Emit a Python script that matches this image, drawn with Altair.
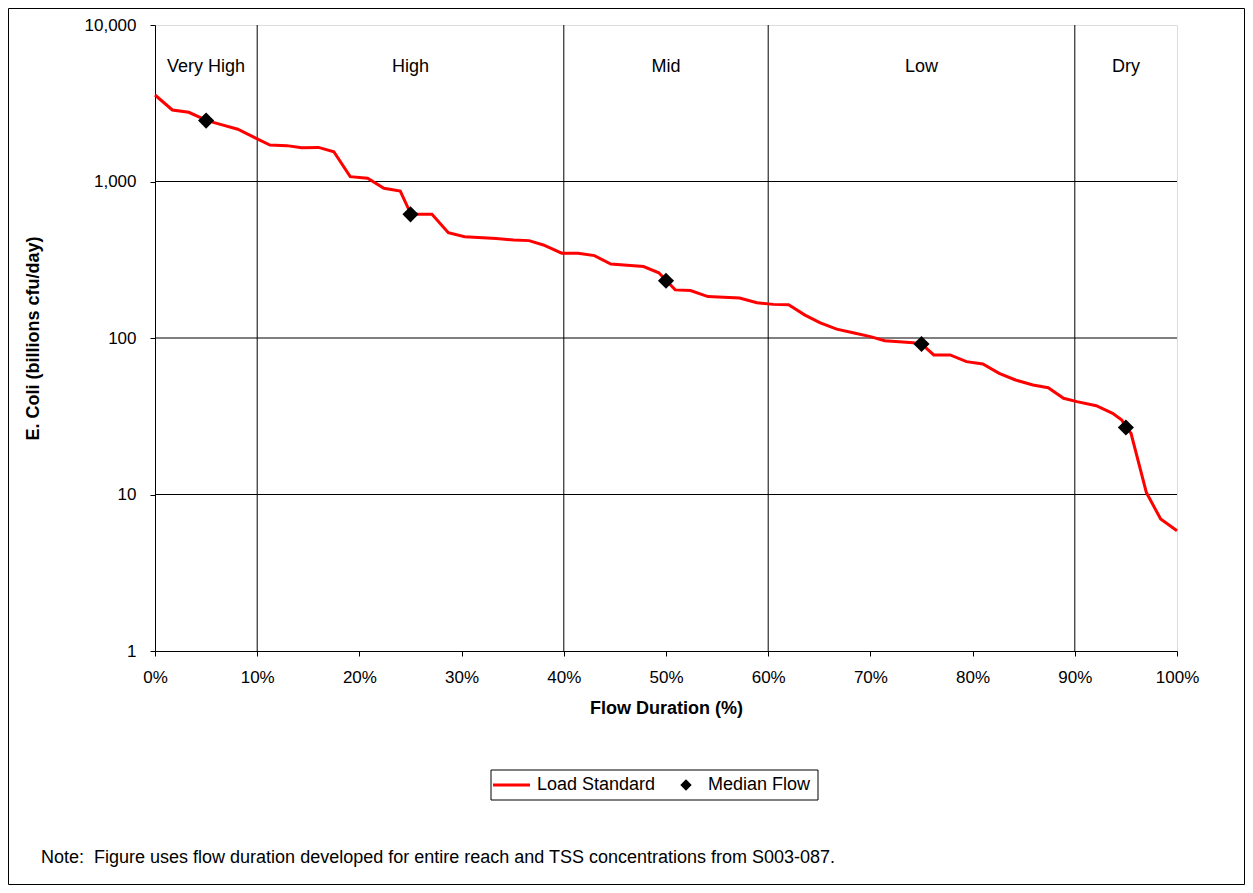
import altair as alt
import pandas as pd

# ---- data ----
flow_pct = [0, 1.7, 3.3, 5.1, 6.4, 8.1, 9.9, 11.25, 12.9, 14.35, 16.0, 17.5, 19.1, 20.8,
            22.4, 24.0, 25.05, 27.1, 28.7, 30.3, 33.4, 35.1, 36.6, 38.0, 39.8, 41.4, 43.0,
            44.6, 47.8, 49.3, 50.05, 50.9, 52.4, 54.1, 57.2, 58.9, 60.5, 62.0, 63.6, 65.1,
            66.7, 68.3, 70.0, 71.4, 74.2, 75.0, 76.2, 77.8, 79.4, 81.0, 82.6, 84.2, 85.9,
            87.4, 88.9, 90.2, 92.1, 93.7, 94.6, 95.0, 95.5, 97.0, 98.4, 100]
load_standard = [3570, 2865, 2767, 2450, 2318, 2158, 1888, 1711, 1695, 1645, 1652, 1549, 1074,
                 1048, 905, 868, 617, 617, 471, 444, 433, 423, 419, 393, 348, 348, 336, 297,
                 286, 261, 232, 203, 201, 184, 180, 168, 164, 163, 140, 125, 114, 108, 102,
                 96.1, 93.4, 91.6, 77.9, 77.9, 70.6, 68.2, 59.4, 53.9, 50.1, 48.1, 41.2, 39.2,
                 36.9, 33.0, 29.9, 26.8, 24.6, 10.3, 6.97, 5.87]
median_pct = [5, 25, 50, 75, 95]
median_flow = [2450, 617, 232, 91.6, 26.8]
zone_names = ["Very High", "High", "Mid", "Low", "Dry"]
zone_centers = [5, 25, 50, 75, 95]
zone_bounds = [10, 40, 60, 90]
grid_values = [10, 100, 1000]
y_ticks = [1, 10, 100, 1000, 10000]
x_ticks = [0, 10, 20, 30, 40, 50, 60, 70, 80, 90, 100]
legend_labels = ["Load Standard", "Median Flow"]
note_text = "Note:\u00a0 Figure uses flow duration developed for entire reach and TSS concentrations from S003-087."

FONT = "Liberation Sans"
W, H = 1022, 626

line_df = pd.DataFrame({"pct": flow_pct, "load": load_standard})
med_df = pd.DataFrame({"pct": median_pct, "load": median_flow})
zone_df = pd.DataFrame({"pct": zone_centers, "name": zone_names})
bound_df = pd.DataFrame({"pct": zone_bounds})
grid_df = pd.DataFrame({"load": grid_values})
one = pd.DataFrame({"k": [0]})

xscale = alt.Scale(domain=[0, 100], nice=False, zero=False)
yscale = alt.Scale(type="log", domain=[1, 10000], nice=False)

xaxis = alt.Axis(values=x_ticks, labelExpr="datum.value + '%'", grid=False,
                 labelFlush=False, labelOverlap=False,
                 domainColor="black", tickColor="black", tickSize=5, labelPadding=13,
                 labelFont=FONT, labelFontSize=17, labelColor="black",
                 title="Flow Duration (%)", titleFont=FONT, titleFontSize=18,
                 titleFontWeight="bold", titleColor="black",
                 titleX=511, titleY=57, titleBaseline="middle", titleAlign="center")
yaxis = alt.Axis(values=y_ticks, format=",", grid=False, labelFlush=False,
                 labelOverlap=False,
                 domainColor="black", tickColor="black", tickSize=5, labelPadding=14,
                 labelFont=FONT, labelFontSize=17, labelColor="black",
                 title="E. Coli (billions cfu/day)", titleFont=FONT, titleFontSize=18,
                 titleFontWeight="bold", titleColor="black",
                 titleX=-122, titleY=313, titleAngle=-90, titleBaseline="middle",
                 titleAlign="center")

hgrid = alt.Chart(grid_df).mark_rule(color="black", strokeWidth=1).encode(
    y=alt.Y("load:Q", scale=yscale, axis=yaxis))

vbound = alt.Chart(bound_df).mark_rule(color="black", strokeWidth=1).encode(
    x=alt.X("pct:Q", scale=xscale, axis=xaxis))

zones = alt.Chart(zone_df).mark_text(font=FONT, fontSize=18, color="black",
                                     align="center", baseline="middle").encode(
    x=alt.X("pct:Q", scale=xscale), y=alt.value(42), text="name:N")

line = alt.Chart(line_df).mark_line(color="#FF0000", strokeWidth=3).encode(
    x=alt.X("pct:Q", scale=xscale), y=alt.Y("load:Q", scale=yscale))

pts = alt.Chart(med_df).mark_point(shape="diamond", filled=True, color="black",
                                   size=260, opacity=1).encode(
    x=alt.X("pct:Q", scale=xscale), y=alt.Y("load:Q", scale=yscale))

# legend (drawn box)
leg_box = alt.Chart(one).mark_rect(fill="white", stroke="black", strokeWidth=1).encode(
    x=alt.value(336), x2=alt.value(663), y=alt.value(745), y2=alt.value(775))
leg_line = alt.Chart(one).mark_rule(color="#FF0000", strokeWidth=3).encode(
    x=alt.value(338), x2=alt.value(375), y=alt.value(760))
leg_t1 = alt.Chart(one).mark_text(font=FONT, fontSize=18, align="left",
                                  baseline="middle", color="black").encode(
    x=alt.value(382), y=alt.value(760), text=alt.value(legend_labels[0]))
leg_pt = alt.Chart(one).mark_point(shape="diamond", filled=True, color="black",
                                   size=130, opacity=1).encode(
    x=alt.value(531), y=alt.value(760))
leg_t2 = alt.Chart(one).mark_text(font=FONT, fontSize=18, align="left",
                                  baseline="middle", color="black").encode(
    x=alt.value(553), y=alt.value(760), text=alt.value(legend_labels[1]))

note = alt.Chart(one).mark_text(font=FONT, fontSize=18, align="left",
                                baseline="middle", color="black").encode(
    x=alt.value(-114), y=alt.value(833), text=alt.value(note_text))

border = alt.Chart(one).mark_rect(fill=None, stroke="black", strokeWidth=1).encode(
    x=alt.value(-146.5), x2=alt.value(1089.5), y=alt.value(-16.5), y2=alt.value(859.5))

chart = alt.layer(
    border, hgrid, vbound, zones, line, pts,
    leg_box, leg_line, leg_t1, leg_pt, leg_t2, note
).properties(
    width=W, height=H,
    autosize=alt.AutoSizeParams(type="none"),
    padding={"left": 147, "top": 17, "right": 68, "bottom": 234},
).configure_view(
    stroke="#808080", strokeWidth=1
).configure(background="white")

chart.save("out.html", embed_options={"renderer": "svg", "actions": False})
